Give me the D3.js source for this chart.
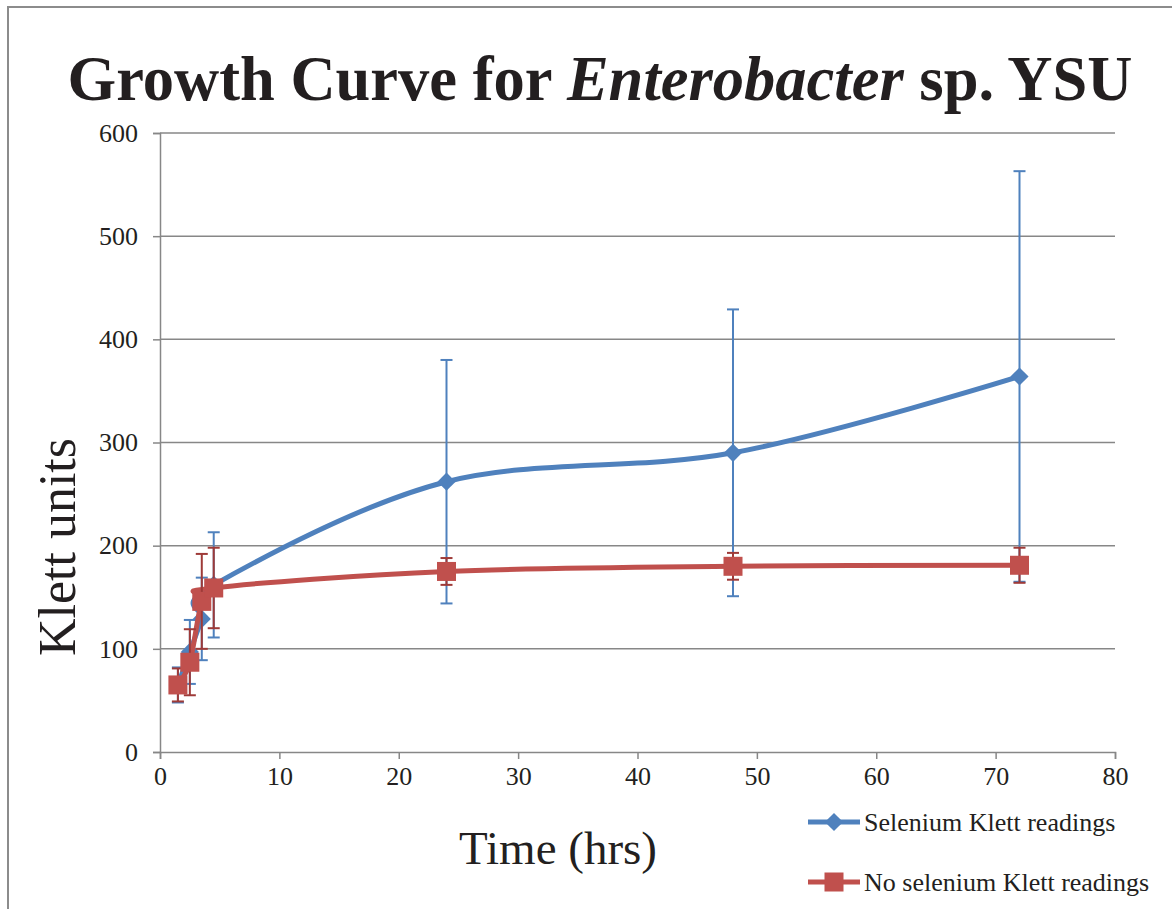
<!DOCTYPE html>
<html>
<head>
<meta charset="utf-8">
<script src="https://cdn.jsdelivr.net/npm/d3@7"></script>
<style>
  html, body { margin: 0; padding: 0; background: #fff; }
  svg { display: block; }
  text { font-family: "Liberation Serif", "Times New Roman", serif; fill: #231f20; }
</style>
</head>
<body>
<svg id="chart" width="1172" height="909"></svg>
<script>
// Sampling times (hours)
const hours = [1.5, 2.5, 3.5, 4.5, 24, 48, 72];

// Selenium-treated culture: mean Klett readings and standard deviations
const seleniumMean = [65, 97, 129, 162, 262, 290, 364];
const seleniumErr  = [17, 31, 40, 51, 118, 139, 199];

// Culture without selenium
const noSeleniumMean = [65, 87, 146, 159, 175, 180, 181];
const noSeleniumErr  = [16, 32, 46, 39, 13, 13, 17];

const xTicks = [0, 10, 20, 30, 40, 50, 60, 70, 80];
const yTicks = [0, 100, 200, 300, 400, 500, 600];

const seriesNames = ["Selenium Klett readings", "No selenium Klett readings"];

const svg = d3.select("#chart");
const plot = { left: 160, right: 1115, top: 133, bottom: 752 };

const x = d3.scaleLinear().domain([0, 80]).range([plot.left, plot.right]);
const y = d3.scaleLinear().domain([0, 600]).range([plot.bottom, plot.top]);

const gridColor = "#878787";

// Chart frame
svg.append("rect")
  .attr("x", 8).attr("y", 7)
  .attr("width", 1200).attr("height", 950)
  .attr("fill", "none").attr("stroke", "#8c8c8c").attr("stroke-width", 2);

// Title
const title = svg.append("text")
  .attr("x", 600).attr("y", 100)
  .attr("text-anchor", "middle")
  .style("font-size", "62.5px").style("font-weight", "bold");
title.append("tspan").text("Growth Curve for ");
title.append("tspan").style("font-style", "italic").text("Enterobacter");
title.append("tspan").text(" sp. YSU");

// Horizontal gridlines
svg.append("g").selectAll("line")
  .data(yTicks.filter(d => d > 0))
  .join("line")
  .attr("x1", plot.left).attr("x2", plot.right)
  .attr("y1", d => y(d)).attr("y2", d => y(d))
  .attr("stroke", gridColor).attr("stroke-width", 1.5);

// Y axis
const yAxis = svg.append("g")
  .attr("transform", `translate(${plot.left},0)`)
  .call(d3.axisLeft(y).tickValues(yTicks).tickSize(7).tickPadding(15));
yAxis.select(".domain").attr("stroke", gridColor).attr("stroke-width", 1.5);
yAxis.selectAll(".tick line").attr("stroke", gridColor).attr("stroke-width", 1.5);
yAxis.selectAll(".tick text")
  .style("font-family", '"Liberation Serif", serif')
  .style("font-size", "26px").attr("fill", "#231f20");

// X axis
const xAxis = svg.append("g")
  .attr("transform", `translate(0,${plot.bottom})`)
  .call(d3.axisBottom(x).tickValues(xTicks).tickSize(7).tickPadding(8));
xAxis.select(".domain").attr("stroke", gridColor).attr("stroke-width", 1.5);
xAxis.selectAll(".tick line").attr("stroke", gridColor).attr("stroke-width", 1.5);
xAxis.selectAll(".tick text")
  .style("font-family", '"Liberation Serif", serif')
  .style("font-size", "26px").attr("fill", "#231f20");

// Axis titles
svg.append("text")
  .attr("transform", "translate(75,547) rotate(-90)")
  .attr("text-anchor", "middle")
  .style("font-size", "52px")
  .text("Klett units");

svg.append("text")
  .attr("x", 558).attr("y", 864)
  .attr("text-anchor", "middle")
  .style("font-size", "47px")
  .text("Time (hrs)");

const series = [
  { name: seriesNames[0], mean: seleniumMean, err: seleniumErr, color: "#4f81bd", errColor: "#4f81bd", marker: "diamond" },
  { name: seriesNames[1], mean: noSeleniumMean, err: noSeleniumErr, color: "#c0504d", errColor: "#9e3a38", marker: "square" }
];

const line = d3.line()
  .x(d => x(d.t)).y(d => y(d.v))
  .curve(d3.curveCardinal.tension(0));

function drawMarker(g, s, cx, cy) {
  if (s.marker === "diamond") {
    g.append("path")
      .attr("d", d3.symbol().type(d3.symbolSquare).size(165)())
      .attr("transform", `translate(${cx},${cy}) rotate(45)`)
      .attr("fill", s.color);
  } else {
    g.append("rect")
      .attr("x", cx - 9.5).attr("y", cy - 9.5)
      .attr("width", 19).attr("height", 19)
      .attr("fill", s.color);
  }
}

series.forEach(s => {
  const pts = hours.map((t, i) => ({ t, v: s.mean[i], e: s.err[i] }));
  const g = svg.append("g");

  // Smoothed series line
  g.append("path")
    .datum(pts)
    .attr("d", line)
    .attr("fill", "none")
    .attr("stroke", s.color)
    .attr("stroke-width", 5)
    .attr("stroke-linejoin", "round");

  // Error bars
  const eb = g.append("g").attr("stroke", s.errColor).attr("stroke-width", 2).attr("fill", "none");
  pts.forEach(p => {
    const cx = x(p.t);
    eb.append("line").attr("x1", cx).attr("x2", cx).attr("y1", y(p.v + p.e)).attr("y2", y(p.v - p.e));
    eb.append("line").attr("x1", cx - 6).attr("x2", cx + 6).attr("y1", y(p.v + p.e)).attr("y2", y(p.v + p.e));
    eb.append("line").attr("x1", cx - 6).attr("x2", cx + 6).attr("y1", y(p.v - p.e)).attr("y2", y(p.v - p.e));
  });

  // Markers
  pts.forEach(p => drawMarker(g, s, x(p.t), y(p.v)));
});

// Legend
const legendRows = [822, 882];
series.forEach((s, i) => {
  const ly = legendRows[i];
  const g = svg.append("g");
  g.append("line")
    .attr("x1", 808).attr("x2", 860).attr("y1", ly).attr("y2", ly)
    .attr("stroke", s.color).attr("stroke-width", 5);
  drawMarker(g, s, 834, ly);
  g.append("text")
    .attr("x", 864).attr("y", ly + 9)
    .style("font-size", "26px")
    .text(s.name);
});
</script>
</body>
</html>
